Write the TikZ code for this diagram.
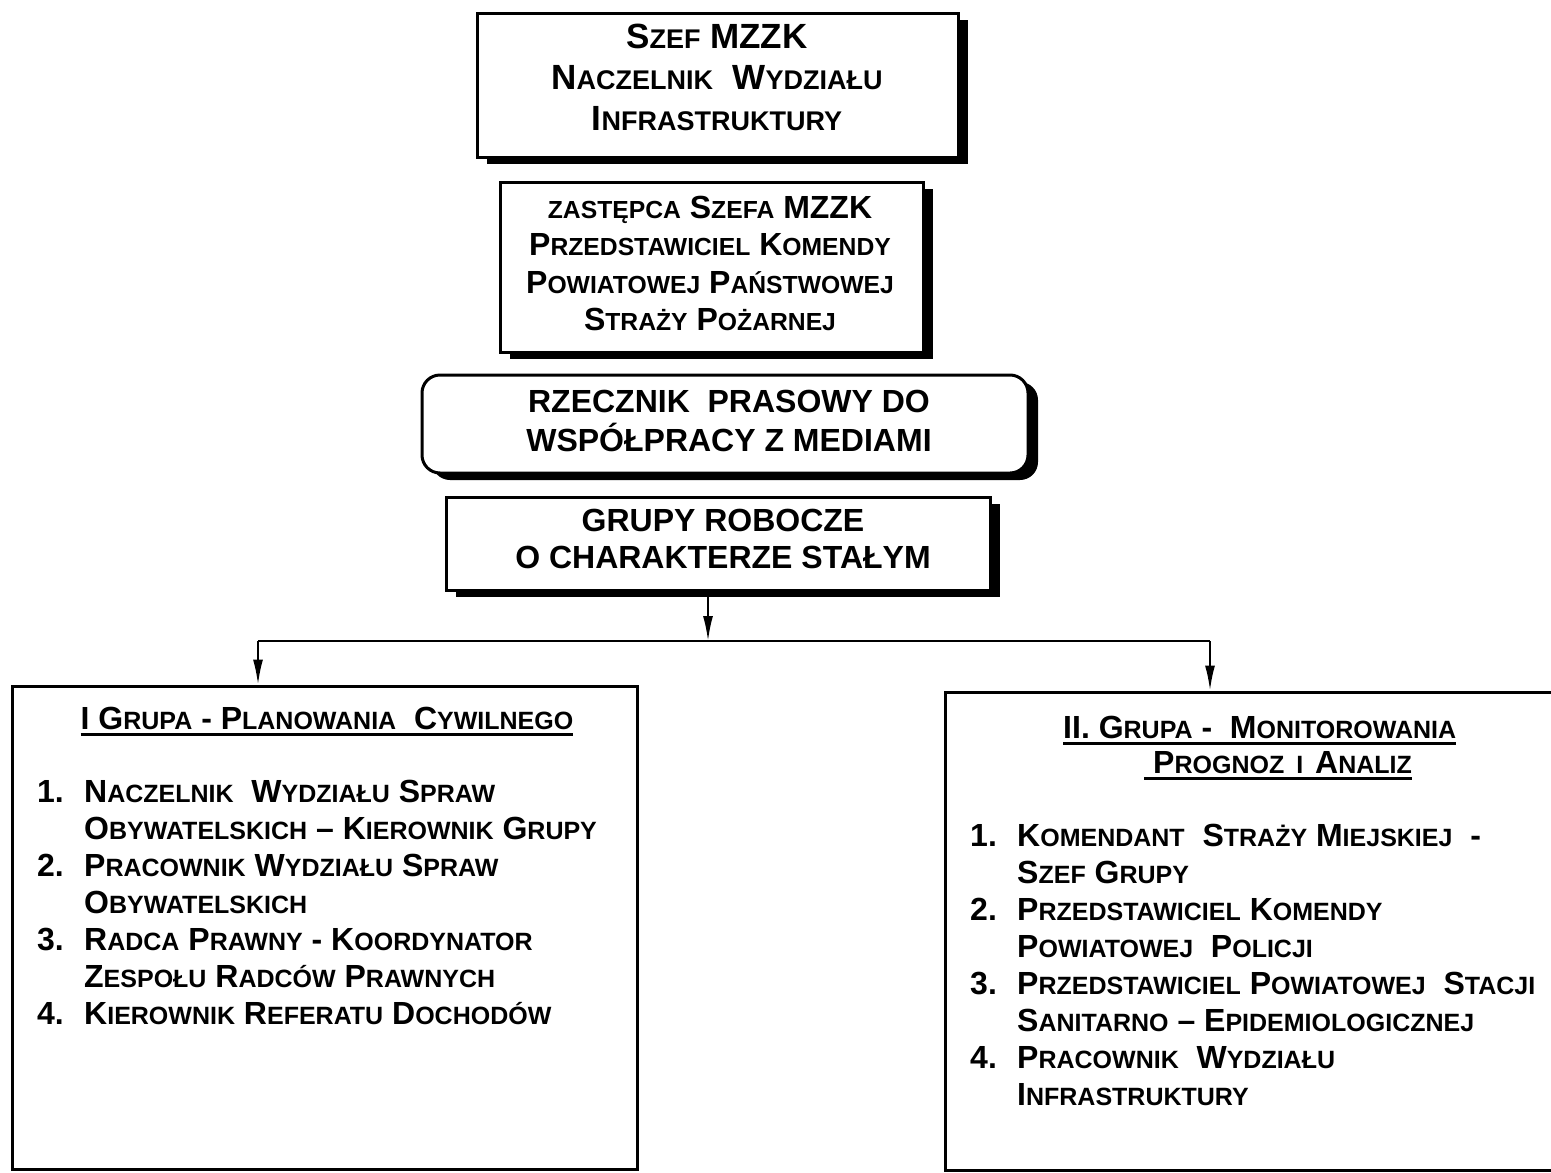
\documentclass[tikz,border=0pt]{standalone}
\usepackage{fontspec}
\setmainfont{Liberation Sans}
\usetikzlibrary{arrows.meta,shadows}
\newcommand\sm[1]{{\fontsize{25}{37}\selectfont #1}}
\newcommand\smA[1]{{\fontsize{27}{41}\selectfont #1}}
\newcommand\smB[1]{{\fontsize{24.7}{37.3}\selectfont #1}}
\newcommand\num[1]{\makebox[47pt][l]{#1}}
\begin{document}
\begin{tikzpicture}[x=1pt,y=-1pt,
  shbox/.style={draw=black, line width=3pt, fill=white, inner sep=0pt,
    drop shadow={shadow xshift=10pt, shadow yshift=-7pt, opacity=1, fill=black}},
  gbox/.style={draw=black, line width=3pt, fill=white, inner sep=0pt},
  txt/.style={inner sep=0pt, anchor=base, font=\bfseries},
  arr/.style={line width=2pt, -{Latex[length=25pt,width=10pt]}},
  conn/.style={line width=2pt},
  uline/.style={line width=2.2pt}]
\useasboundingbox (0,0) rectangle (1551,1173);
\fill[white] (0,0) rectangle (1551,1173);

% top boxes
\node[shbox, minimum width=481, minimum height=144] (b1) at (717.5,85) {};
\node[shbox, minimum width=423, minimum height=170] (b2) at (711.5,267) {};
\node[shbox, rounded corners=18pt, minimum width=606, minimum height=98] (b3) at (725,424) {};
\node[shbox, minimum width=544, minimum height=93] (b4) at (718,543.5) {};

\node[txt, font=\bfseries\fontsize{35}{41}\selectfont] (t1) at (717,48.5) {\begin{tabular}[t]{@{}c@{}}
S\smA{ZEF} MZZK\\
N\smA{ACZELNIK}\ \ W\smA{YDZIAŁU}\\
I\smA{NFRASTRUKTURY}
\end{tabular}};

\node[txt, font=\bfseries\fontsize{32}{37.3}\selectfont] (t2) at (710,218.5) {\begin{tabular}[t]{@{}c@{}}
\smB{ZASTĘPCA} S\smB{ZEFA} MZZK\\
P\smB{RZEDSTAWICIEL} K\smB{OMENDY}\\
P\smB{OWIATOWEJ} P\smB{AŃSTWOWEJ}\\
S\smB{TRAŻY} P\smB{OŻARNEJ}
\end{tabular}};

\node[txt, font=\bfseries\fontsize{32}{37}\selectfont] (t3) at (729,412.5) {\begin{tabular}[t]{@{}c@{}}
RZECZNIK\ \ PRASOWY DO\\
WSPÓŁPRACY Z MEDIAMI
\end{tabular}};

\node[txt, font=\bfseries\fontsize{32}{37}\selectfont] (t4) at (723,531.5) {\begin{tabular}[t]{@{}c@{}}
GRUPY ROBOCZE\\
O CHARAKTERZE STAŁYM
\end{tabular}};

% group boxes
\node[gbox, minimum width=625, minimum height=483] (g1) at (324.5,927.5) {};
\node[gbox, minimum width=615, minimum height=478] (g2) at (1252.5,931) {};

% connectors
\coordinate (hc) at (708,641);
\coordinate (hl) at (258,641);
\coordinate (hr) at (1210,641);
\draw[arr] (b4.south -| hc) -- (hc);
\draw[conn] (hc) -- (hl);
\draw[conn] (hc) -- (hr);
\draw[arr] (hl) -- (hl |- g1.north);
\draw[arr] (hr) -- (hr |- g2.north);

% left group
\node[txt, font=\bfseries\fontsize{32}{37}\selectfont] (lt) at (327,729.5) {I G\sm{RUPA} - P\sm{LANOWANIA}\ \ C\sm{YWILNEGO}};
\draw[uline] ([yshift=-5pt]lt.base west) -- ([yshift=-5pt]lt.base east);

\node[txt, anchor=base west, font=\bfseries\fontsize{32}{37}\selectfont] (ll) at (37,802.5) {\begin{tabular}[t]{@{}l@{}}
\num{1.}N\sm{ACZELNIK}\ \ W\sm{YDZIAŁU} S\sm{PRAW}\\
\num{}O\sm{BYWATELSKICH} – K\sm{IEROWNIK} G\sm{RUPY}\\
\num{2.}P\sm{RACOWNIK} W\sm{YDZIAŁU} S\sm{PRAW}\\
\num{}O\sm{BYWATELSKICH}\\
\num{3.}R\sm{ADCA} P\sm{RAWNY} - K\sm{OORDYNATOR}\\
\num{}Z\sm{ESPOŁU} R\sm{ADCÓW} P\sm{RAWNYCH}\\
\num{4.}K\sm{IEROWNIK} R\sm{EFERATU} D\sm{OCHODÓW}
\end{tabular}};

% right group
\node[txt, anchor=base west, font=\bfseries\fontsize{32}{37}\selectfont] (rt1) at (1063,738.5) {II. G\sm{RUPA} -\ \ M\sm{ONITOROWANIA}};
\draw[uline] ([yshift=-5pt]rt1.base west) -- ([yshift=-5pt]rt1.base east);
\node[txt, anchor=base west, font=\bfseries\fontsize{32}{37}\selectfont] (rt2) at (1153,773.5) {P\sm{ROGNOZ}\hspace{12pt}\sm{I}\hspace{12pt}A\sm{NALIZ}};
\draw[uline] ([xshift=-9pt,yshift=-5pt]rt2.base west) -- ([yshift=-5pt]rt2.base east);

\node[txt, anchor=base west, font=\bfseries\fontsize{32}{37}\selectfont] (rl) at (970,846.5) {\begin{tabular}[t]{@{}l@{}}
\num{1.}K\sm{OMENDANT}\ \ S\sm{TRAŻY} M\sm{IEJSKIEJ}\ \ -\\
\num{}S\sm{ZEF} G\sm{RUPY}\\
\num{2.}P\sm{RZEDSTAWICIEL} K\sm{OMENDY}\\
\num{}P\sm{OWIATOWEJ}\ \ P\sm{OLICJI}\\
\num{3.}P\sm{RZEDSTAWICIEL} P\sm{OWIATOWEJ}\ \ S\sm{TACJI}\\
\num{}S\sm{ANITARNO} – E\sm{PIDEMIOLOGICZNEJ}\\
\num{4.}P\sm{RACOWNIK}\ \ W\sm{YDZIAŁU}\\
\num{}I\sm{NFRASTRUKTURY}
\end{tabular}};
\end{tikzpicture}
\end{document}
